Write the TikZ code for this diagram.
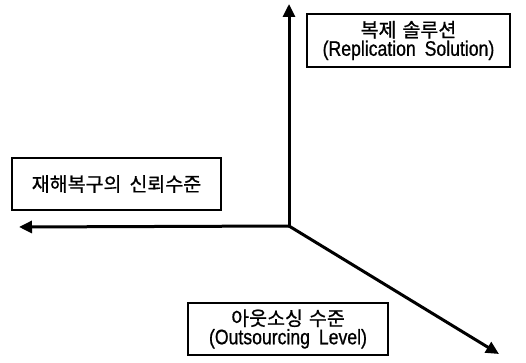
\documentclass[tikz,border=0pt]{standalone}
\usepackage{fontspec}
\setmainfont{Liberation Sans}
\newfontfamily\kr[FakeBold=0.8]{Noto Sans CJK KR}
\newfontfamily\lat[FakeStretch=0.84,FakeBold=0.8]{Liberation Sans}
\usetikzlibrary{arrows.meta}
\tikzset{
  axis/.style={line width=3pt, -{Triangle[length=13pt,width=12pt]}},
  label box/.style={draw, line width=1.5pt, fill=white, align=center, inner sep=0pt},
}
\begin{document}
\begin{tikzpicture}[x=1pt,y=-1pt]
\useasboundingbox (0,0) rectangle (526,363);
\coordinate (o) at (289,226);
\coordinate (up) at (289,4);
\coordinate (left) at (19,227);
\coordinate (dr) at (499,354);
\draw[axis] (o) -- (up);
\draw[axis] (o) -- (left);
\draw[axis] (o) -- (dr);
\node[label box, minimum width=203pt, minimum height=53pt] (top) at (408.5,40.5)
  {{\kr\fontsize{19.5}{22}\selectfont 복제\hspace{6pt}솔루션}\\[1pt]{\lat\fontsize{21}{22}\selectfont (Replication\hspace{4pt} Solution)}};
\node[label box, minimum width=209pt, minimum height=52pt] (lft) at (116.5,184)
  {{\kr\fontsize{19.5}{22}\selectfont 재해복구의\hspace{8pt}신뢰수준}};
\node[label box, minimum width=200pt, minimum height=52pt] (bot) at (288,329)
  {{\kr\fontsize{19.5}{22}\selectfont 아웃소싱\hspace{6pt}수준}\\[1pt]{\lat\fontsize{21}{22}\selectfont (Outsourcing\hspace{4pt} Level)}};
\end{tikzpicture}
\end{document}
